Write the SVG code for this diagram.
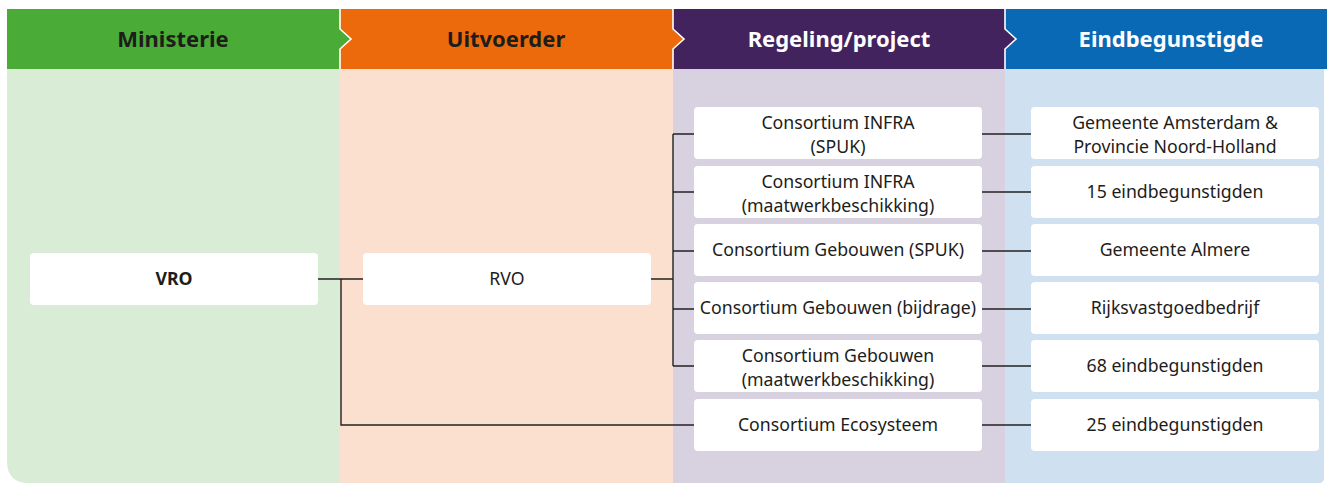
<svg xmlns="http://www.w3.org/2000/svg" width="1327" height="483" viewBox="0 0 1327 483">
<style>
.box{fill:#ffffff}
.t{font-family:"Noto Sans","Open Sans",sans-serif;font-size:17.7px;fill:#1d1d1b;text-anchor:middle}
.h{font-family:"Noto Sans","Open Sans",sans-serif;font-size:22px;font-weight:bold;text-anchor:middle}
.sep{fill:none;stroke:#ffffff;stroke-width:1.6}
.c{fill:none;stroke:#222222;stroke-width:1.4}
</style>
<rect width="1327" height="483" fill="#ffffff"/>
<g id="bodies">
<path d="M7,69 H340 V483 H29 Q7,483 7,461 Z" fill="#d9ecd6"/>
<rect x="340" y="69" width="333" height="414" fill="#fbe0cf"/>
<rect x="673" y="69" width="332" height="414" fill="#d8d2e0"/>
<path d="M1005,69 H1324 V478 Q1324,483 1319,483 H1005 Z" fill="#cfe1f0"/>
</g>
<g id="headers">
<rect x="1005" y="9" width="322" height="60" fill="#0a69b4"/>
<polygon points="673,9 1005,9 1005,29 1016,39 1005,49 1005,69 673,69" fill="#42235e"/>
<polyline class="sep" points="1005,9 1005,29 1016,39 1005,49 1005,69"/>
<polygon points="340,9 673,9 673,29 684,39 673,49 673,69 340,69" fill="#ec6a0b"/>
<polyline class="sep" points="673,9 673,29 684,39 673,49 673,69"/>
<polygon points="7,9 340,9 340,29 351,39 340,49 340,69 7,69" fill="#4aac36"/>
<polyline class="sep" points="340,9 340,29 351,39 340,49 340,69"/>
<text class="h" x="173" y="47" fill="#1d1d1b">Ministerie</text>
<text class="h" x="506" y="47" fill="#1d1d1b">Uitvoerder</text>
<text class="h" x="839" y="47" fill="#ffffff">Regeling/project</text>
<text class="h" x="1171" y="47" fill="#ffffff">Eindbegunstigde</text>
</g>
<g id="connectors">
<path class="c" d="M318,279 H363 M341,279 V425 H695"/>
<path class="c" d="M651,279 H673 M673,134 V366 M673,134 H695 M673,192 H695 M673,251 H695 M673,309 H695 M673,366 H695"/>
<path class="c" d="M982,134 H1031 M982,192 H1031 M982,251 H1031 M982,309 H1031 M982,366 H1031 M982,425 H1031"/>
</g>
<g id="n-vro"><rect class="box" x="30" y="253" width="288" height="52" rx="4"/><text class="t" x="174" y="285" style="font-weight:bold">VRO</text></g>
<g id="n-rvo"><rect class="box" x="363" y="253" width="288" height="52" rx="4"/><text class="t" x="507" y="285">RVO</text></g>
<g id="n-infra-spuk"><rect class="box" x="694" y="107" width="288" height="52" rx="4"/><text class="t" x="838" y="128.5"><tspan x="838">Consortium INFRA</tspan><tspan x="838" dy="24.3">(SPUK)</tspan></text></g>
<g id="n-infra-maat"><rect class="box" x="694" y="166" width="288" height="52" rx="4"/><text class="t" x="838" y="187.5"><tspan x="838">Consortium INFRA</tspan><tspan x="838" dy="24.3">(maatwerkbeschikking)</tspan></text></g>
<g id="n-geb-spuk"><rect class="box" x="694" y="224" width="288" height="52" rx="4"/><text class="t" x="838" y="256">Consortium Gebouwen (SPUK)</text></g>
<g id="n-geb-bijdrage"><rect class="box" x="694" y="282" width="288" height="52" rx="4"/><text class="t" x="838" y="314">Consortium Gebouwen (bijdrage)</text></g>
<g id="n-geb-maat"><rect class="box" x="694" y="340" width="288" height="52" rx="4"/><text class="t" x="838" y="361.5"><tspan x="838">Consortium Gebouwen</tspan><tspan x="838" dy="24.3">(maatwerkbeschikking)</tspan></text></g>
<g id="n-eco"><rect class="box" x="694" y="399" width="288" height="52" rx="4"/><text class="t" x="838" y="431">Consortium Ecosysteem</text></g>
<g id="n-ams"><rect class="box" x="1031" y="107" width="288" height="52" rx="4"/><text class="t" x="1175" y="128.5"><tspan x="1175">Gemeente Amsterdam &amp;</tspan><tspan x="1175" dy="24.3">Provincie Noord-Holland</tspan></text></g>
<g id="n-15"><rect class="box" x="1031" y="166" width="288" height="52" rx="4"/><text class="t" x="1175" y="198">15 eindbegunstigden</text></g>
<g id="n-almere"><rect class="box" x="1031" y="224" width="288" height="52" rx="4"/><text class="t" x="1175" y="256">Gemeente Almere</text></g>
<g id="n-rvb"><rect class="box" x="1031" y="282" width="288" height="52" rx="4"/><text class="t" x="1175" y="314">Rijksvastgoedbedrijf</text></g>
<g id="n-68"><rect class="box" x="1031" y="340" width="288" height="52" rx="4"/><text class="t" x="1175" y="372">68 eindbegunstigden</text></g>
<g id="n-25"><rect class="box" x="1031" y="399" width="288" height="52" rx="4"/><text class="t" x="1175" y="431">25 eindbegunstigden</text></g>
</svg>
